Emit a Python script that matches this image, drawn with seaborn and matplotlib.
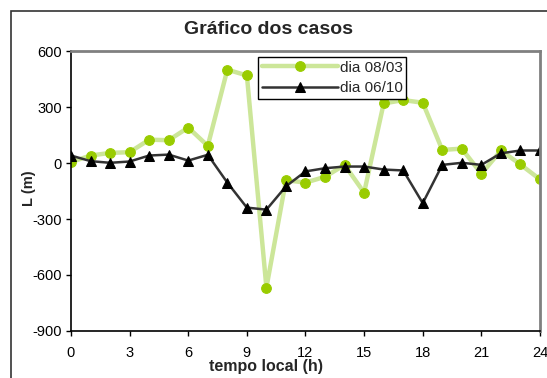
import numpy as np
import pandas as pd
import seaborn as sns
import matplotlib.pyplot as plt
from matplotlib.patches import Rectangle

# dados
horas = [0, 1, 2, 3, 4, 5, 6, 7, 8, 9, 10, 11, 12,
         13, 14, 15, 16, 17, 18, 19, 20, 21, 22, 23, 24]
dia_0803 = [5, 40, 54, 58, 125, 122, 190, 92, 500, 469, -668, -92, -105,
            -74, -10, -159, 319, 337, 323, 70, 77, -58, 67, -8, -88]
dia_0610 = [40, 10, 1, 8, 40, 45, 13, 44, -105, -239, -250, -125, -45,
            -28, -19, -19, -35, -40, -215, -10, 1, -10, 52, 67, 67]
xticks = [0, 3, 6, 9, 12, 15, 18, 21, 24]
yticks = [-900, -600, -300, 0, 300, 600]

sns.set_style("white")
plt.rcParams['font.family'] = ['Liberation Sans', 'DejaVu Sans']
plt.rcParams['axes.unicode_minus'] = False

W, H = 547, 378
fig = plt.figure(figsize=(W / 100, H / 100), dpi=100)
ax = fig.add_axes([71 / W, 1 - 331 / H, (540 - 71) / W, (331 - 51) / H])

# moldura do grafico (estilo Excel)
fig.patches.append(Rectangle((11 / W, -0.1), 2.0, (1 - 11 / H) + 0.1,
                             transform=fig.transFigure, fill=False,
                             edgecolor='#333333', linewidth=1.2))

sns.lineplot(x=horas, y=dia_0803, ax=ax, color='#cce699', linewidth=3.2,
             marker='o', markersize=7, markerfacecolor='#99cc00',
             markeredgecolor='#99cc00', label='dia 08/03')
sns.lineplot(x=horas, y=dia_0610, ax=ax, color='#333333', linewidth=1.8,
             marker='^', markersize=7.5, markerfacecolor='black',
             markeredgecolor='black', label='dia 06/10')

ax.set_xlim(0, 24)
ax.set_ylim(-900, 600)
ax.set_xticks(xticks)
ax.set_yticks(yticks)
ax.tick_params(axis='x', direction='out', length=3.5, width=1, pad=7,
               labelsize=10.5, bottom=True, colors='black')
ax.tick_params(axis='y', direction='out', length=3.5, width=1, pad=3,
               labelsize=10.5, left=True, colors='black')

for s in ['left', 'bottom']:
    ax.spines[s].set_color('black')
    ax.spines[s].set_linewidth(1.2)
for s in ['top', 'right']:
    ax.spines[s].set_color('#808080')
    ax.spines[s].set_linewidth(2)

ax.set_xlabel('')
ax.set_ylabel('')
fig.text(268 / W, 1 - 30 / H, 'Gráfico dos casos', ha='center', va='center',
         fontsize=14, fontweight='bold')
fig.text(266 / W, 1 - 366 / H, 'tempo local (h)', ha='center', va='center',
         fontsize=11.5, fontweight='bold')
fig.text(29 / W, 1 - 188 / H, 'L (m)', ha='center', va='center',
         rotation=90, fontsize=10.5, fontweight='bold')

leg = ax.legend(loc='upper left', bbox_to_anchor=(258 / W, 1 - 57 / H),
                bbox_transform=fig.transFigure, fontsize=11,
                frameon=True, fancybox=False, edgecolor='black',
                framealpha=1, borderaxespad=0, borderpad=0.25,
                handlelength=5.0, handletextpad=0.1, labelspacing=0.4)
leg.get_frame().set_linewidth(1)

fig.savefig('out.png', dpi=100)
